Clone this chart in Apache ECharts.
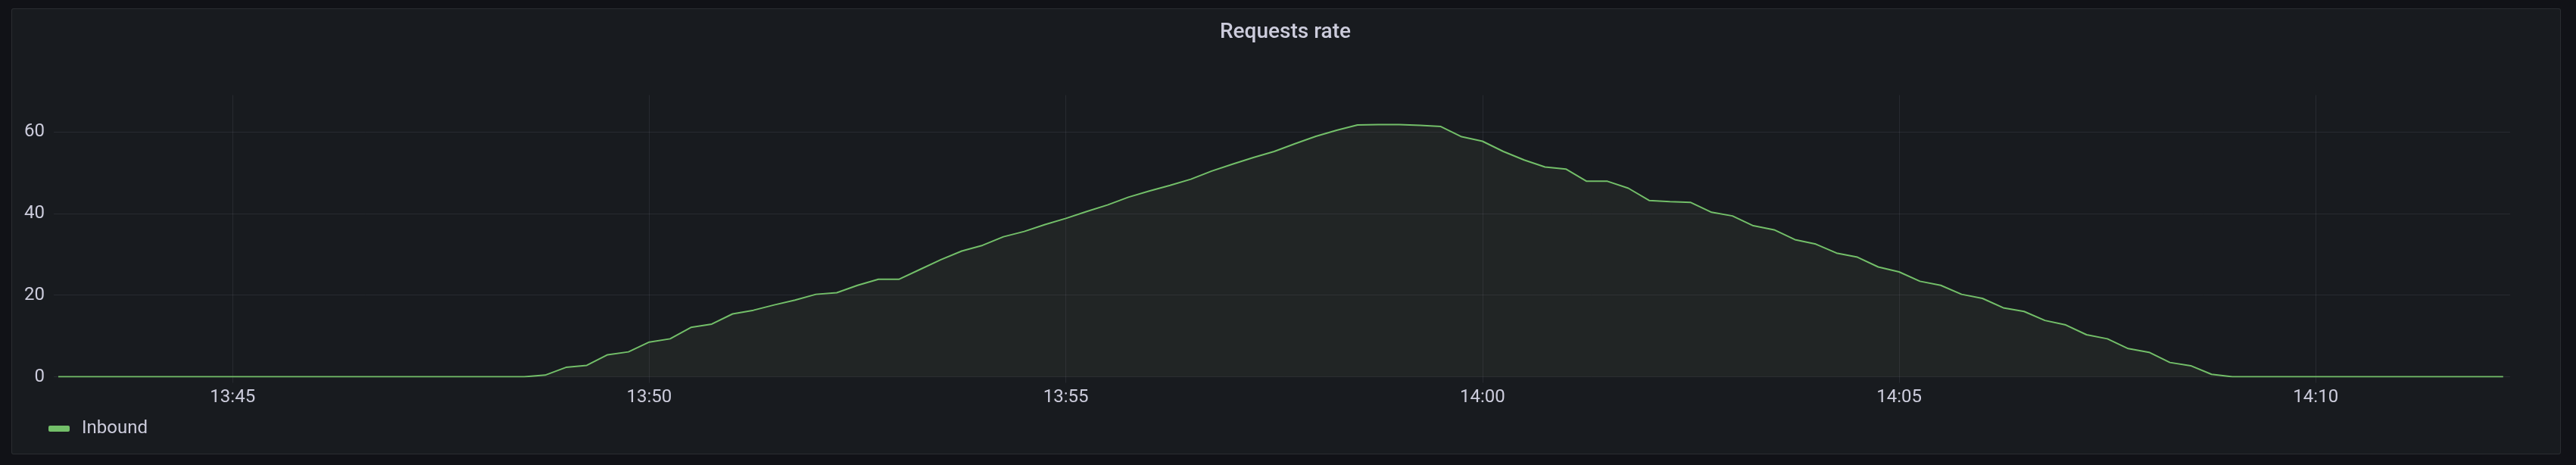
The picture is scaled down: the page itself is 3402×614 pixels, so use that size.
<!DOCTYPE html>
<html>
<head>
<meta charset="utf-8">
<script src="https://cdn.jsdelivr.net/npm/echarts@6/dist/echarts.min.js"></script>
<style>
  html, body { margin: 0; padding: 0; background: #111217; width: 3402px; height: 614px; overflow: hidden; }
  #panel { position: absolute; left: 15px; top: 11px; width: 3365px; height: 587px; background: #181b1f; border: 1px solid rgba(204,204,220,0.10); border-radius: 3px; }
  #chart { position: absolute; left: 0; top: 0; width: 3402px; height: 614px; }
</style>
</head>
<body>
<div id="panel"></div>
<div id="chart"></div>
<script>
// ---- data ----
const titleText = 'Requests rate';
const seriesName = 'Inbound';
const firstSample = '13:42:45';   // first sample time
const stepSeconds = 15;           // sampling step
const rangeStart = '13:42:55';    // visible time range
const rangeEnd = '14:12:20';
const xTickLabels = ['13:45', '13:50', '13:55', '14:00', '14:05', '14:10'];
const yTickValues = [0, 20, 40, 60];
const yMax = 69;

const leadingZeros = [0,0,0,0,0,0,0,0,0,0,0,0,0,0,0,0,0,0,0,0,0,0,0,0]; // 13:42:45 .. 13:48:30
const rampValues = [
  0.4, 2.3, 2.8, 5.4, 6.1,      // 13:48:45 .. 13:49:45
  8.5, 9.3, 12.1, 12.9,         // 13:50
  15.4, 16.3, 17.6, 18.8,       // 13:51
  20.2, 20.6, 22.4, 23.9,       // 13:52
  23.9, 26.3, 28.7, 30.8,       // 13:53
  32.2, 34.3, 35.6, 37.3,       // 13:54
  38.8, 40.5, 42.1, 44.0,       // 13:55
  45.5, 46.9, 48.4, 50.4,       // 13:56
  52.1, 53.7, 55.2, 57.1,       // 13:57
  58.9, 60.4, 61.7, 61.8,       // 13:58
  61.8, 61.6, 61.3, 58.8,       // 13:59
  57.7, 55.2, 53.1, 51.4,       // 14:00
  50.9, 47.9, 47.9, 46.2,       // 14:01
  43.2, 42.9, 42.7, 40.3,       // 14:02
  39.4, 37.0, 36.0, 33.6,       // 14:03
  32.5, 30.3, 29.3, 26.9,       // 14:04
  25.7, 23.4, 22.4, 20.2,       // 14:05
  19.2, 16.9, 16.0, 13.8,       // 14:06
  12.7, 10.3, 9.3, 6.9,         // 14:07
  6.0, 3.5, 2.7, 0.6,           // 14:08
  0                             // 14:09:00
];
const trailingZeros = [0,0,0,0,0,0,0,0,0,0,0,0,0]; // 14:09:15 .. 14:12:15

// ---- helpers ----
function toMs(hms) {
  const p = hms.split(':').map(Number);
  return Date.UTC(2024, 0, 1, p[0], p[1], p[2] || 0);
}
function fmt(v) {
  const d = new Date(v);
  const h = String(d.getUTCHours()).padStart(2, '0');
  const m = String(d.getUTCMinutes()).padStart(2, '0');
  return h + ':' + m;
}
const inboundValues = leadingZeros.concat(rampValues, trailingZeros);
const t0 = toMs(firstSample);
const seriesData = inboundValues.map((v, i) => [t0 + i * stepSeconds * 1000, v]);
const xTickValues = xTickLabels.map(toMs);

const textColor = '#ccccdc';
const gridColor = 'rgba(204,204,220,0.09)';
const lineColor = '#73bf69';

const chart = echarts.init(document.getElementById('chart'), null, { renderer: 'canvas' });
chart.setOption({
  animation: false,
  backgroundColor: 'transparent',
  textStyle: { fontFamily: 'Roboto' },
  title: {
    text: titleText,
    left: 1611,
    top: 29,
    padding: 0,
    textStyle: { color: textColor, fontSize: 28, fontWeight: 500, fontFamily: 'Roboto' }
  },
  legend: {
    data: [seriesName],
    left: 64,
    top: 554,
    padding: 0,
    icon: 'roundRect',
    itemWidth: 28,
    itemHeight: 8,
    textStyle: { color: textColor, fontSize: 24, fontFamily: 'Roboto', padding: [0, 0, 0, 11] }
  },
  grid: { left: 78, right: 87, top: 125.6, bottom: 116.5, containLabel: false },
  xAxis: {
    type: 'value',
    min: toMs(rangeStart),
    max: toMs(rangeEnd),
    axisLine: { show: false },
    axisTick: { show: true, length: 8, lineStyle: { color: gridColor, width: 1 }, customValues: xTickValues },
    axisLabel: { customValues: xTickValues, formatter: fmt, color: textColor, fontSize: 24, fontFamily: 'Roboto', margin: 15 },
    splitLine: { show: true, lineStyle: { color: gridColor, width: 1 } }
  },
  yAxis: {
    type: 'value',
    min: 0,
    max: yMax,
    axisLine: { show: false },
    axisTick: { show: true, length: 7, lineStyle: { color: gridColor, width: 1 }, customValues: yTickValues },
    axisLabel: { customValues: yTickValues, color: textColor, fontSize: 24, fontFamily: 'Roboto', margin: 19 },
    splitLine: { show: true, lineStyle: { color: gridColor, width: 1 } }
  },
  series: [{
    name: seriesName,
    type: 'line',
    data: seriesData,
    showSymbol: false,
    symbol: 'none',
    clip: true,
    itemStyle: { color: lineColor },
    lineStyle: { color: lineColor, width: 2 },
    areaStyle: { color: 'rgba(154,177,121,0.1)' }
  }]
});
</script>
</body>
</html>
